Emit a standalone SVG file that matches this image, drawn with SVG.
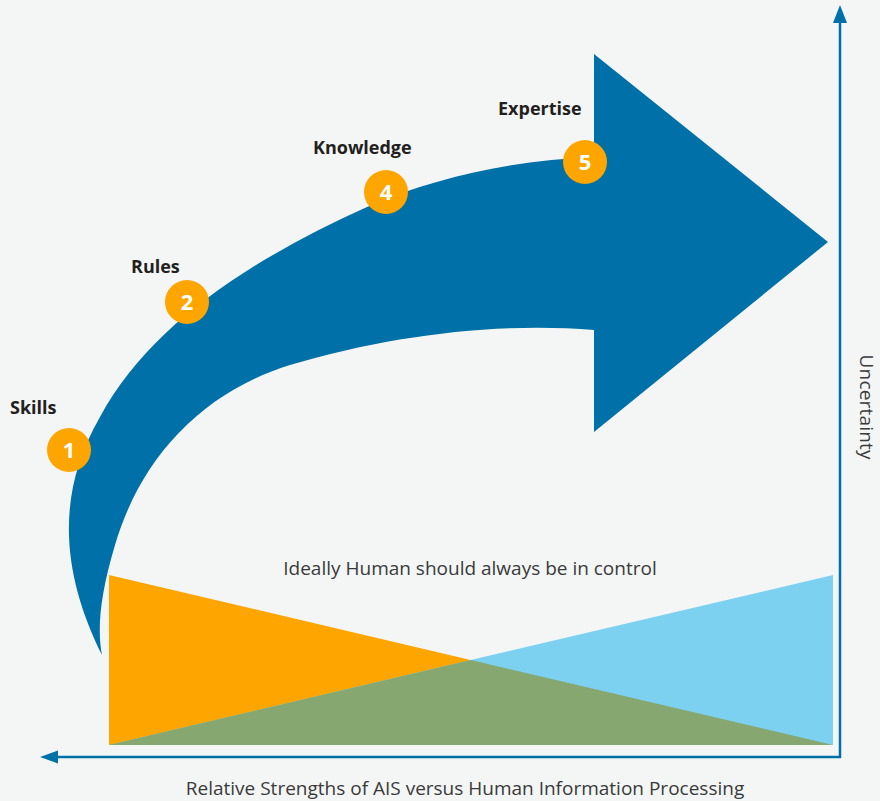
<svg xmlns="http://www.w3.org/2000/svg" width="880" height="801" viewBox="0 0 880 801">
<style>
.lbl{font-family:"Open Sans","Liberation Sans",sans-serif;font-weight:700;font-size:18px;fill:#231f20}
.num{font-family:"Open Sans","Liberation Sans",sans-serif;font-weight:700;font-size:22px;fill:#ffffff;text-anchor:middle}
.badge{fill:#fea500}
.cap{font-family:"Open Sans","Liberation Sans",sans-serif;font-size:19px;fill:#3a3a3a}
.axis{stroke:#0070a8;stroke-width:2.5;fill:none}
.head{fill:#0070a8}
</style>
<rect width="880" height="801" fill="#f4f6f6"/>
<g id="bars">
<polygon points="109,575 833,745 109,745" fill="#fea500"/>
<polygon points="833,575 833,745 109,745" fill="#7dd1f0"/>
<polygon points="109,745 471,660 833,745" fill="#86a870"/>
</g>
<g id="bigArrow">
<path d="M102,655 C65,580 52,500 100,417 C150,325 250,260 367,207 C440,175 520,160 594,157 L594,54 L828,242 L594,432 L594,330 C500,322 390,335 290,365 C200,393 140,460 115,545 C100,595 97,630 102,655 Z" fill="#0070a8"/>
</g>
<g id="step1"><circle class="badge" cx="69" cy="450" r="22"/><text class="num" x="69" y="458">1</text><text class="lbl" x="10" y="414">Skills</text></g>
<g id="step2"><circle class="badge" cx="187" cy="302" r="22"/><text class="num" x="187" y="310">2</text><text class="lbl" x="131" y="273">Rules</text></g>
<g id="step4"><circle class="badge" cx="386" cy="192" r="22"/><text class="num" x="386" y="200">4</text><text class="lbl" x="313" y="154">Knowledge</text></g>
<g id="step5"><circle class="badge" cx="585" cy="162" r="22"/><text class="num" x="585" y="170">5</text><text class="lbl" x="498" y="115">Expertise</text></g>
<g id="connectors">
<line class="axis" x1="840" y1="20" x2="840" y2="758"/>
<polygon class="head" points="840,5 833,23 847,23"/>
<line class="axis" x1="55" y1="757" x2="841" y2="757"/>
<polygon class="head" points="40,757 58,750.5 58,763.5"/>
</g>
<text class="cap" x="470" y="575" text-anchor="middle">Ideally Human should always be in control</text>
<text class="cap" x="465" y="795" text-anchor="middle">Relative Strengths of AIS versus Human Information Processing</text>
<text class="cap" transform="translate(860,407) rotate(90)" text-anchor="middle" textLength="105">Uncertainty</text>
</svg>
